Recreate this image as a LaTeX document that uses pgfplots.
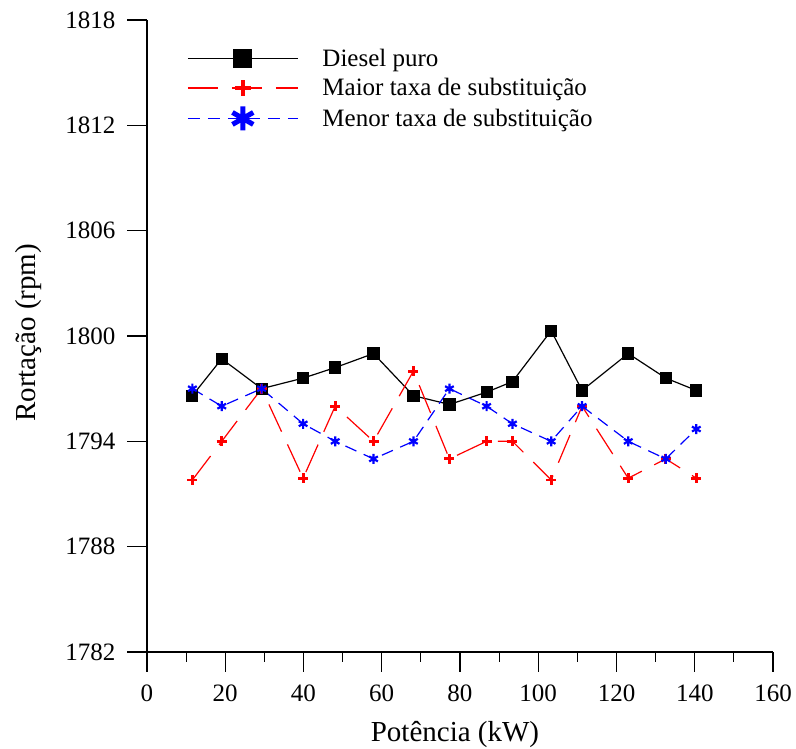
\documentclass[border=0pt]{standalone}
\usepackage{fontspec}
\setmainfont{Liberation Serif}
\usepackage{pgfplots}
\pgfplotsset{compat=1.18}

\begin{document}
\begin{tikzpicture}
\useasboundingbox (-147pt,-97pt) rectangle (649pt,652pt);
\begin{axis}[
  at={(0pt,0pt)}, anchor=south west,
  scale only axis, width=626pt, height=632pt,
  xmin=0, xmax=160, ymin=1782, ymax=1818,
  axis x line*=bottom, axis y line*=left, axis line style={line width=1.2pt,-},
  xtick={0,20,...,160}, minor x tick num=1,
  ytick={1782,1788,...,1818}, minor y tick num=0,
  xtick align=outside, ytick align=outside, xtick pos=bottom, ytick pos=left,
  major tick length=20pt, minor tick length=10pt,
  tick style={line width=1.2pt,black},
  /pgf/number format/assume math mode=true,
  /pgf/number format/1000 sep={},
  ticklabel style={font=\fontsize{25}{30}\selectfont},
  xticklabel style={yshift=-9pt},
  yticklabel style={xshift=-8pt},
  label style={font=\fontsize{29}{34}\selectfont},
  xlabel={Potência (kW)}, ylabel={Rortação (rpm)},
  xlabel style={at={(axis description cs:0.492,-0.131)},anchor=center},
  ylabel style={at={(axis description cs:-0.19,0.505)},anchor=center},
  legend style={at={(axis description cs:0.064,0.958)},anchor=north west,draw=none,fill=none,
    font=\fontsize{25}{30}\selectfont,row sep=7pt,inner sep=0pt,
    /tikz/every odd column/.append style={column sep=22pt}},
  legend cell align=left,
  legend image code/.code={\draw[mark repeat=2,mark phase=2,#1] plot coordinates {(0pt,0pt) (55pt,0pt) (110pt,0pt)};},
]
\addplot[black, line width=1.2pt, mark=square*, mark size=5.5pt, mark options={solid},
  legend image post style={mark size=9pt}] coordinates {
(11.6,1796.6) (19.1,1798.7) (29.3,1797.0) (39.9,1797.6) (48.1,1798.2) (57.9,1799.0)
(68.1,1796.6) (77.3,1796.1) (86.8,1796.8) (93.4,1797.4) (103.3,1800.3) (111.2,1796.9)
(123.0,1799.0) (132.6,1797.6) (140.4,1796.9)};
\addlegendentry{Diesel puro}
\addplot[red, line width=1.2pt, dash pattern=on 30pt off 14pt, mark=+, mark size=5pt,
  mark options={solid,line width=2.8pt},
  legend image post style={mark size=8pt,mark options={solid,line width=4.5pt}}] coordinates {
(11.6,1791.8) (19.1,1794.0) (29.3,1797.0) (39.9,1791.9) (48.1,1796.0) (57.9,1794.0)
(68.1,1798.0) (77.3,1793.0) (86.8,1794.0) (93.4,1794.0) (103.3,1791.8) (111.2,1796.0)
(123.0,1791.9) (132.6,1793.0) (140.4,1791.9)};
\addlegendentry{Maior taxa de substituição}
\addplot[blue, line width=1.2pt, dash pattern=on 12pt off 8pt, mark=asterisk, mark size=5pt,
  mark options={solid,line width=2.2pt},
  legend image post style={mark size=12pt,mark options={solid,line width=5pt}}] coordinates {
(11.6,1797.0) (19.1,1796.0) (29.3,1797.0) (39.9,1795.0) (48.1,1794.0) (57.9,1793.0)
(68.1,1794.0) (77.3,1797.0) (86.8,1796.0) (93.4,1795.0) (103.3,1794.0) (111.2,1796.0)
(123.0,1794.0) (132.6,1793.0) (140.4,1794.7)};
\addlegendentry{Menor taxa de substituição}
\end{axis}
\end{tikzpicture}
\end{document}
